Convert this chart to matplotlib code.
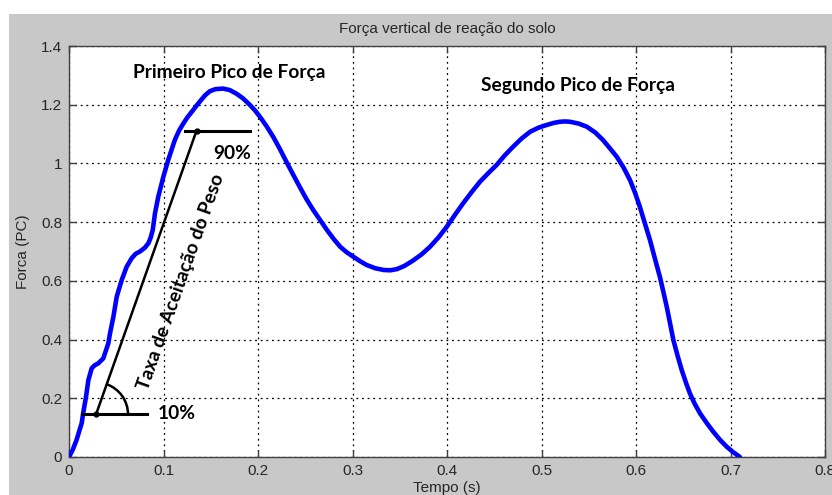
import numpy as np
import matplotlib.pyplot as plt
from matplotlib.patches import Rectangle, Arc

# Curva de força vertical de reação do solo
tempo = [0.0, 0.004, 0.008, 0.0134, 0.015, 0.018, 0.0205, 0.024, 0.027, 0.031,
         0.0363, 0.0416, 0.0434, 0.047, 0.0505, 0.0558, 0.061, 0.0663, 0.0705, 0.0751,
         0.080, 0.084, 0.0865, 0.0886, 0.091, 0.0945, 0.0999, 0.105, 0.112, 0.1165,
         0.121, 0.1255, 0.130, 0.1345, 0.139, 0.144, 0.149, 0.155, 0.163, 0.170,
         0.177, 0.184, 0.1915, 0.197, 0.202, 0.209, 0.216, 0.223, 0.230, 0.237,
         0.244, 0.251, 0.2585, 0.266, 0.273, 0.280, 0.287, 0.294, 0.301, 0.308,
         0.315, 0.324, 0.333, 0.340, 0.347, 0.355, 0.364, 0.373, 0.382, 0.391,
         0.3997, 0.408, 0.417, 0.426, 0.435, 0.444, 0.4526, 0.461, 0.470, 0.479,
         0.488, 0.497, 0.5055, 0.513, 0.5196, 0.525, 0.530, 0.539, 0.548, 0.557,
         0.565, 0.572, 0.5796, 0.587, 0.5937, 0.599, 0.604, 0.609, 0.6148, 0.620,
         0.6254, 0.629, 0.6325, 0.636, 0.6395, 0.644, 0.6484, 0.653, 0.657, 0.662,
         0.6677, 0.675, 0.6818, 0.689, 0.696, 0.703, 0.710]
forca = [0.0, 0.025, 0.058, 0.115, 0.149, 0.205, 0.262, 0.302, 0.312, 0.319,
         0.336, 0.387, 0.421, 0.478, 0.546, 0.603, 0.648, 0.677, 0.692, 0.700,
         0.712, 0.728, 0.748, 0.773, 0.830, 0.887, 0.955, 1.012, 1.080, 1.112,
         1.136, 1.158, 1.176, 1.195, 1.213, 1.232, 1.246, 1.253, 1.255, 1.250,
         1.238, 1.222, 1.199, 1.180, 1.159, 1.127, 1.091, 1.050, 1.006, 0.963,
         0.921, 0.880, 0.841, 0.806, 0.773, 0.743, 0.716, 0.697, 0.682, 0.667,
         0.654, 0.643, 0.637, 0.636, 0.640, 0.651, 0.669, 0.690, 0.716, 0.748,
         0.784, 0.823, 0.864, 0.902, 0.938, 0.968, 0.995, 1.027, 1.057, 1.085,
         1.108, 1.122, 1.131, 1.138, 1.142, 1.143, 1.142, 1.136, 1.125, 1.105,
         1.080, 1.053, 1.023, 0.985, 0.943, 0.900, 0.853, 0.800, 0.739, 0.676,
         0.612, 0.562, 0.512, 0.456, 0.399, 0.345, 0.296, 0.252, 0.217, 0.182,
         0.149, 0.115, 0.086, 0.058, 0.035, 0.016, 0.0]

# pontos de 10% e 90% da taxa de aceitação do peso
p10 = (0.0286, 0.145)
p90 = (0.135, 1.112)
linha10_x = [0.0134, 0.0822]
linha90_x = [0.1228, 0.1915]

xticks = [0, 0.1, 0.2, 0.3, 0.4, 0.5, 0.6, 0.7, 0.8]
xticklabels = ['0', '0.1', '0.2', '0.3', '0.4', '0.5', '0.6', '0.7', '0.8']
yticks = [0, 0.2, 0.4, 0.6, 0.8, 1.0, 1.2, 1.4]
yticklabels = ['0', '0.2', '0.4', '0.6', '0.8', '1', '1.2', '1.4']

W, H = 832, 495
fig = plt.figure(figsize=(W / 100, H / 100), dpi=100, facecolor='white')
# fundo cinza estilo MATLAB, com borda branca no topo e à esquerda
fig.add_artist(Rectangle((9 / W, 0), 1, 1 - 14 / H, transform=fig.transFigure,
                         facecolor='#c8c8c8', edgecolor='none', zorder=-10))

ax = fig.add_axes([69 / W, 1 - 457 / H, (825 - 69) / W, (457 - 46) / H])
ax.set_facecolor('white')

ax.plot(tempo, forca, color='#0000ff', lw=3.3, solid_joinstyle='round',
        solid_capstyle='round', zorder=3)

# anotações
bold = dict(family=['Lato', 'DejaVu Sans'], weight='bold', color='black')
ax.plot([p10[0], p90[0]], [p10[1], p90[1]], color='black', lw=1.8, zorder=4)
ax.plot(linha10_x, [p10[1], p10[1]], color='black', lw=2.2, zorder=4)
ax.plot(linha90_x, [p90[1], p90[1]], color='black', lw=2.2, zorder=4)
ax.plot([p10[0], p90[0]], [p10[1], p90[1]], 'o', color='black', ms=3.5, zorder=5)
r_px = 32
ang_px = np.degrees(np.arctan2((p90[1] - p10[1]) * 411 / 1.4, (p90[0] - p10[0]) * 756 / 0.8))
ang_dados = np.degrees(np.arctan2(p90[1] - p10[1], p90[0] - p10[0]))
ax.add_patch(Arc(p10, 2 * r_px * 0.8 / 756, 2 * r_px * 1.4 / 411, theta1=0, theta2=ang_dados,
                 color='black', lw=1.8, zorder=4))

ax.text(0.169, 1.31, 'Primeiro Pico de Força', ha='center', va='center', fontsize=13.8, **bold)
ax.text(0.539, 1.267, 'Segundo Pico de Força', ha='center', va='center', fontsize=13.8, **bold)
ax.text(0.173, 1.035, '90%', ha='center', va='center', fontsize=13.8, **bold)
ax.text(0.114, 0.149, '10%', ha='center', va='center', fontsize=13.8, **bold)
ax.text(0.119, 0.596, 'Taxa de Aceitação do Peso', ha='center', va='center', fontsize=13.8,
        rotation=ang_px, rotation_mode='anchor', **bold)

ax.set_xlim(0, 0.8)
ax.set_ylim(0, 1.4)
ax.set_xticks(xticks)
ax.set_xticklabels(xticklabels)
ax.set_yticks(yticks)
ax.set_yticklabels(yticklabels)
ax.tick_params(direction='in', length=5, width=1, color='#404040', top=True, right=True,
               labelsize=11, labelcolor='#262626', pad=5)
for lab in ax.get_xticklabels() + ax.get_yticklabels():
    lab.set_family(['Liberation Sans', 'DejaVu Sans'])
ax.grid(True, color='black', linestyle=(0, (1.5, 3)), lw=0.9)
for s in ax.spines.values():
    s.set_color('#404040')
    s.set_linewidth(1)

txt = dict(family=['Liberation Sans', 'DejaVu Sans'], color='#262626', fontsize=11)
fig.text(447 / W, 1 - 29 / H, 'Força vertical de reação do solo', ha='center', va='center', **txt)
fig.text(447 / W, 1 - 488 / H, 'Tempo (s)', ha='center', va='center', **txt)
fig.text(23 / W, 1 - 252 / H, 'Forca (PC)', ha='center', va='center', rotation=90, **txt)

fig.savefig('out.png', dpi=100, facecolor=fig.get_facecolor())
